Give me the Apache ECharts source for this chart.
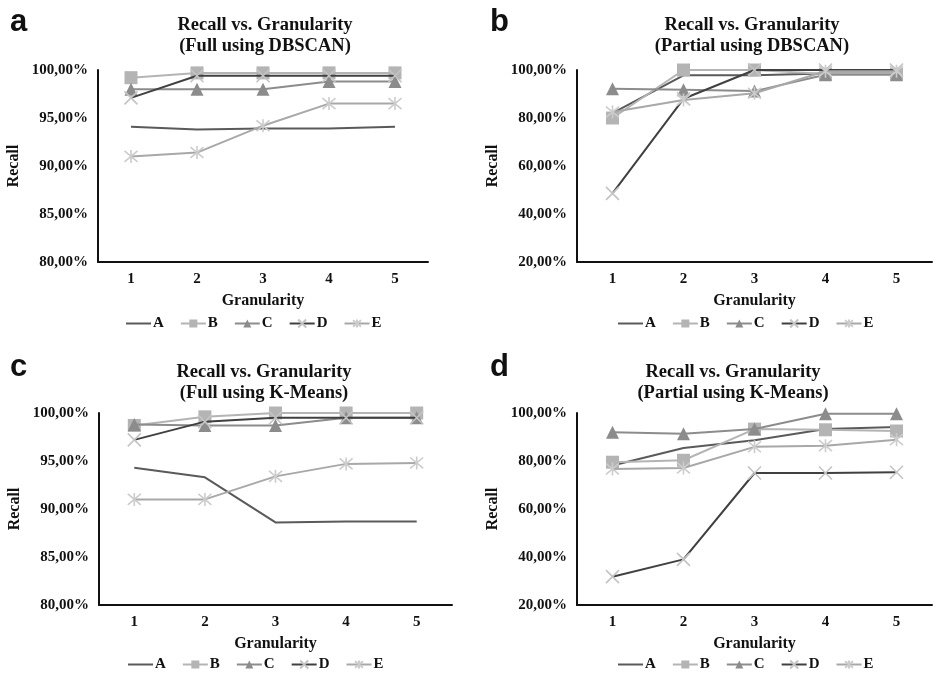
<!DOCTYPE html>
<html><head><meta charset="utf-8">
<script src="https://cdn.jsdelivr.net/npm/echarts/dist/echarts.min.js"></script>
<style>html,body{margin:0;padding:0;background:#fff}#c{width:939px;height:673px}</style>
</head><body><div id="c"></div>
<script>
const categories = ['1','2','3','4','5'];
const seriesNames = ['A','B','C','D','E'];
// Panel a: Full using DBSCAN
const aA = [94.1, 93.8, 93.9, 93.9, 94.1];
const aB = [99.2, 99.7, 99.7, 99.7, 99.7];
const aC = [98.0, 98.0, 98.0, 98.8, 98.8];
const aD = [97.1, 99.4, 99.4, 99.4, 99.4];
const aE = [91.0, 91.4, 94.2, 96.5, 96.5];
// Panel b: Partial using DBSCAN
const bA = [82.0, 97.8, 97.8, 98.5, 98.5];
const bB = [80.0, 100.0, 100.0, 98.3, 98.3];
const bC = [92.2, 91.8, 91.2, 98.0, 98.0];
const bD = [48.6, 88.0, 100.0, 100.0, 100.0];
const bE = [82.5, 87.5, 90.3, 99.5, 99.5];
// Panel c: Full using K-Means
const cA = [94.3, 93.3, 88.6, 88.7, 88.7];
const cB = [98.7, 99.6, 100.0, 100.0, 100.0];
const cC = [98.8, 98.7, 98.7, 99.5, 99.5];
const cD = [97.2, 99.1, 99.5, 99.5, 99.5];
const cE = [91.0, 91.0, 93.4, 94.7, 94.8];
// Panel d: Partial using K-Means
const dA = [78.1, 85.4, 88.6, 93.3, 94.2];
const dB = [79.5, 80.3, 93.3, 93.0, 92.5];
const dC = [92.0, 91.4, 93.3, 99.7, 99.7];
const dD = [31.8, 39.0, 75.0, 75.0, 75.3];
const dE = [76.7, 77.1, 85.9, 86.4, 88.9];

const panelTitles = [
  'Recall vs. Granularity\n(Full using DBSCAN)',
  'Recall vs. Granularity\n(Partial using DBSCAN)',
  'Recall vs. Granularity\n(Full using K-Means)',
  'Recall vs. Granularity\n(Partial using K-Means)'
];
const panelLetters = ['a','b','c','d'];
const panelData = [[aA,aB,aC,aD,aE],[bA,bB,bC,bD,bE],[cA,cB,cC,cD,cE],[dA,dB,dC,dD,dE]];
const yMin = [80, 20, 80, 20], yMax = [100, 100, 100, 100], yStep = [5, 20, 5, 20];

const serif = '"Liberation Serif","Times New Roman",serif';
const grids = [
  {left: 98, top: 70, width: 330, height: 192},
  {left: 577, top: 70, width: 355, height: 192},
  {left: 99, top: 413, width: 353, height: 192},
  {left: 577, top: 413, width: 355, height: 192}
];
const titleCenters = [[260, 10], [747, 10], [259, 357], [728, 357]];
const letterPos = [[5, 2], [485, 2], [5, 347], [485, 347]];
const legendLeft = [[121, 311], [613, 311], [123, 652], [613, 652]];

const styles = [
  {line: '#5a5a5a', symbol: 'none', size: 0, mcolor: '#5a5a5a'},
  {line: '#b4b4b4', symbol: 'rect', size: 13, mcolor: '#b4b4b4'},
  {line: '#8c8c8c', symbol: 'triangle', size: 13, mcolor: '#8c8c8c'},
  {line: '#404040', symbol: 'path://M0,0L10,10M10,0L0,10', size: 13, mcolor: '#c4c4c4', stroke: true},
  {line: '#a8a8a8', symbol: 'path://M0,0L10,10M10,0L0,10M5,-1L5,11', size: 13, mcolor: '#cccccc', stroke: true}
];

const title = [], xAxis = [], yAxis = [], series = [], legend = [];
for (let p = 0; p < 4; p++) {
  title.push({text: panelTitles[p], left: titleCenters[p][0], top: titleCenters[p][1], textAlign: 'center',
    textStyle: {fontFamily: serif, fontWeight: 'bold', fontSize: 18.5, lineHeight: 21, color: '#111'}});
  title.push({text: panelLetters[p], left: letterPos[p][0], top: letterPos[p][1],
    textStyle: {fontFamily: '"Liberation Sans",Arial,sans-serif', fontWeight: 'bold', fontSize: 31, color: '#111'}});
  xAxis.push({type: 'category', gridIndex: p, data: categories, boundaryGap: true,
    name: 'Granularity', nameLocation: 'middle', nameGap: 31,
    nameTextStyle: {fontFamily: serif, fontWeight: 'bold', fontSize: 16, color: '#111'},
    axisLine: {lineStyle: {color: '#111', width: 2}}, axisTick: {show: false},
    axisLabel: {fontFamily: serif, fontWeight: 'bold', fontSize: 15, color: '#111', margin: 10}});
  yAxis.push({type: 'value', gridIndex: p, min: yMin[p], max: yMax[p], interval: yStep[p],
    name: 'Recall', nameLocation: 'middle', nameGap: 76, nameRotate: 90,
    nameTextStyle: {fontFamily: serif, fontWeight: 'bold', fontSize: 16, color: '#111'},
    axisLine: {show: true, lineStyle: {color: '#111', width: 2}}, axisTick: {show: false}, splitLine: {show: false},
    axisLabel: {fontFamily: serif, fontWeight: 'bold', fontSize: 15, color: '#111', margin: 10,
      formatter: v => v.toFixed(2).replace('.', ',') + '%'}});
  legend.push({data: seriesNames.map((n, i) => i === 0 ? {name: n, icon: 'path://M0,4L25,4L25,6L0,6Z'} : n),
    left: legendLeft[p][0], top: legendLeft[p][1],
    itemWidth: 25, itemHeight: 10, itemGap: 16, selectedMode: false,
    textStyle: {fontFamily: serif, fontWeight: 'bold', fontSize: 15, color: '#111', padding: [0,0,0,-3]}});
  for (let s = 0; s < 5; s++) {
    const st = styles[s];
    const ser = {type: 'line', name: seriesNames[s], xAxisIndex: p, yAxisIndex: p, data: panelData[p][s],
      symbol: st.symbol, symbolSize: st.size, showSymbol: st.symbol !== 'none', animation: false,
      lineStyle: {color: st.line, width: 2},
      itemStyle: {color: st.mcolor}, z: 2 + s};
    if (st.stroke) ser.itemStyle = {color: st.mcolor, borderColor: st.mcolor, borderWidth: 1.6};
    series.push(ser);
  }
}

const chart = echarts.init(document.getElementById('c'), null, {renderer: 'canvas'});
chart.setOption({animation: false, backgroundColor: '#fff', title, grid: grids, xAxis, yAxis, legend, series});
</script></body></html>
